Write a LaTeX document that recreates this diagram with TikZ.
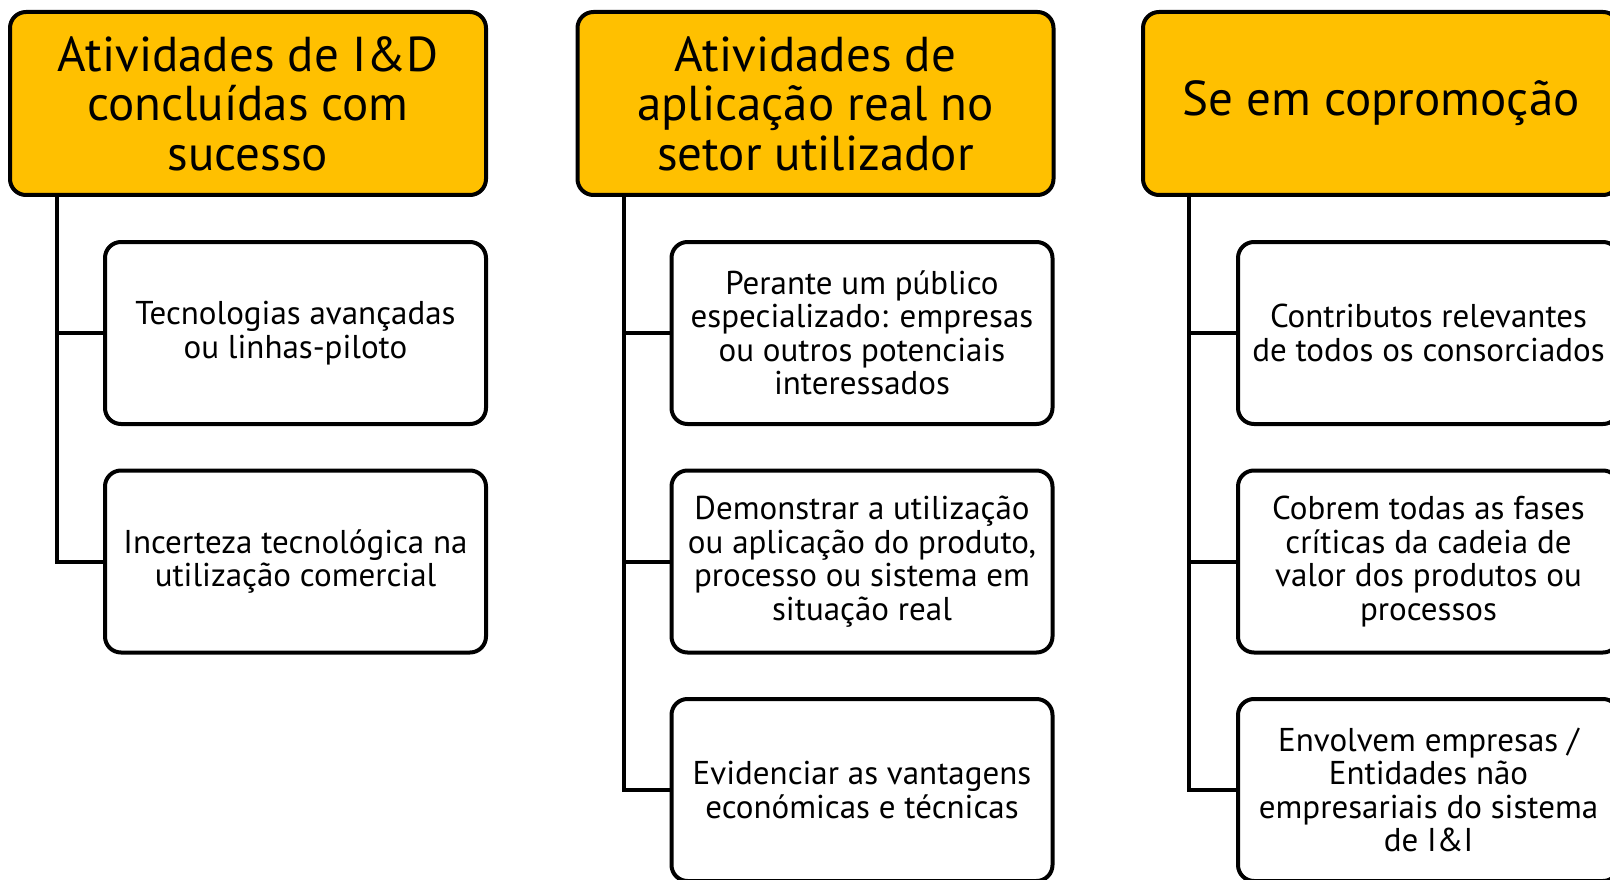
\documentclass[tikz,border=0pt]{standalone}
\usepackage{fontspec}
\setmainfont{PT Sans}
\definecolor{gold}{HTML}{FFC000}
\tikzset{
  x=1pt, y=-1pt,
  headbox/.style={draw=black, line width=4pt, rounded corners=16pt, fill=gold,
    minimum width=476pt, minimum height=183pt, align=center, inner sep=4pt,
    font=\fontsize{49}{49.5}\selectfont},
  childbox/.style={draw=black, line width=4pt, rounded corners=16pt, fill=white,
    minimum width=381pt, minimum height=182pt, align=center, inner sep=4pt,
    font=\fontsize{33}{33.5}\selectfont},
  conn/.style={draw=black, line width=4pt}
}
\begin{document}
\begin{tikzpicture}
\clip (0,0) rectangle (1610,880);
\fill[white] (0,0) rectangle (1610,880);
% Column 1
\node[headbox] (h1) at (248,103.5) {Atividades de I\&D\\concluídas com\\sucesso};
\node[childbox] (c11) at (295.5,333) {Tecnologias avançadas\\ou linhas-piloto};
\node[childbox] (c12) at (295.5,561.5) {Incerteza tecnológica na\\utilização comercial};
% Column 2
\node[headbox] (h2) at (815.5,103.5) {Atividades de\\aplicação real no\\setor utilizador};
\node[childbox] (c21) at (862,333) {Perante um público\\especializado: empresas\\ou outros potenciais\\interessados};
\node[childbox] (c22) at (862,561.5) {Demonstrar a utilização\\ou aplicação do produto,\\processo ou sistema em\\situação real};
\node[childbox] (c23) at (862,790) {Evidenciar as vantagens\\económicas e técnicas};
% Column 3
\node[headbox] (h3) at (1381,103.5) {Se em copromoção};
\node[childbox] (c31) at (1428.5,333) {Contributos relevantes\\de todos os consorciados};
\node[childbox] (c32) at (1428.5,561.5) {Cobrem todas as fases\\críticas da cadeia de\\valor dos produtos ou\\processos};
\node[childbox] (c33) at (1428.5,790) {Envolvem empresas /\\Entidades não\\empresariais do sistema\\de I\&I};
% Connectors
\coordinate (t1) at ([xshift=49pt]h1.south west);
\coordinate (t2) at ([xshift=48pt]h2.south west);
\coordinate (t3) at ([xshift=48pt]h3.south west);
\draw[conn] (t1) |- (c12.west);
\draw[conn] (t1 |- c11.west) -- (c11.west);
\draw[conn] (t2) |- (c23.west);
\draw[conn] (t2 |- c21.west) -- (c21.west);
\draw[conn] (t2 |- c22.west) -- (c22.west);
\draw[conn] (t3) |- (c33.west);
\draw[conn] (t3 |- c31.west) -- (c31.west);
\draw[conn] (t3 |- c32.west) -- (c32.west);
\end{tikzpicture}
\end{document}
